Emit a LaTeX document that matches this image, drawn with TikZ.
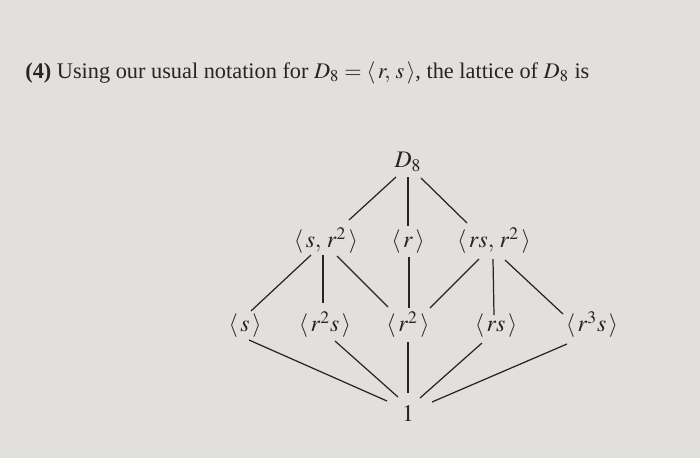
\documentclass[tikz,border=0pt]{standalone}
\usepackage{mathptmx}
\usepackage[no-math]{fontspec}
\setmainfont{Liberation Serif}
\usepackage{xcolor}
\usepackage{tikz}
\usetikzlibrary{calc}

\definecolor{paper}{RGB}{226,224,220}
\definecolor{ink}{RGB}{38,36,36}

\begin{document}
\begin{tikzpicture}[
    x=0.02cm, y=-0.02cm,
    grp/.style={text=ink, inner sep=4pt, text height=1.7ex, text depth=0.5ex, font=\fontsize{13.5}{15}\selectfont},
    link/.style={draw=ink, line width=0.7pt},
]
    \fill[paper] (0,0) rectangle (700,458);
    \useasboundingbox (0,0) rectangle (700,458);

    \node[anchor=base west, inner sep=0pt, text=ink, font=\fontsize{12.7}{15}\selectfont] (title) at (25,78)
        {\textbf{(4)} Using our usual notation for $D_8 = \langle\, r,\, s\,\rangle$, the lattice of $D_8$ is};

    \node[grp] (d8) at (408,163) {$D_8$};

    \node[grp] (sr2) at (326,243) {$\langle\, s,\, r^2\,\rangle$};
    \node[grp] (r) at (408,243) {$\langle\, r\,\rangle$};
    \node[grp] (rsr2) at (494,243) {$\langle\, rs,\, r^2\,\rangle$};

    \node[grp] (s) at (245,327) {$\langle\, s\,\rangle$};
    \node[grp] (r2s) at (325,327) {$\langle\, r^2s\,\rangle$};
    \node[grp] (r2) at (408,327) {$\langle\, r^2\,\rangle$};
    \node[grp] (rs) at (496,327) {$\langle\, rs\,\rangle$};
    \node[grp] (r3s) at (592,327) {$\langle\, r^3s\,\rangle$};

    \node[grp] (one) at (408,417) {$1$};

    % top
    \draw[link] ($(d8)+(-12,14)$) -- ($(sr2)+(23,-23)$);
    \draw[link] ($(d8)+(0,14)$) -- ($(r)+(0,-17)$);
    \draw[link] ($(d8)+(13,15)$) -- ($(rsr2)+(-27,-20)$);

    % middle
    \draw[link] ($(sr2)+(-15,12)$) -- ($(s)+(6,-16)$);
    \draw[link] ($(sr2)+(-3,12)$) -- ($(r2s)+(-2,-24)$);
    \draw[link] ($(sr2)+(11,13)$) -- ($(r2)+(-20,-20)$);
    \draw[link] ($(r)+(1,14)$) -- ($(r2)+(1,-19)$);
    \draw[link] ($(rsr2)+(-15,16)$) -- ($(r2)+(22,-19)$);
    \draw[link] ($(rsr2)+(-1,16)$) -- ($(rs)+(-2,-12)$);
    \draw[link] ($(rsr2)+(11,17)$) -- ($(r3s)+(-29,-13)$);

    % bottom
    \draw[link] ($(s)+(4,13)$) -- ($(one)+(-21,-16)$);
    \draw[link] ($(r2s)+(10,14)$) -- ($(one)+(-10,-20)$);
    \draw[link] ($(r2)+(0,15)$) -- ($(one)+(0,-24)$);
    \draw[link] ($(rs)+(-14,16)$) -- ($(one)+(12,-19)$);
    \draw[link] ($(r3s)+(-25,17)$) -- ($(one)+(24,-15)$);
\end{tikzpicture}
\end{document}
